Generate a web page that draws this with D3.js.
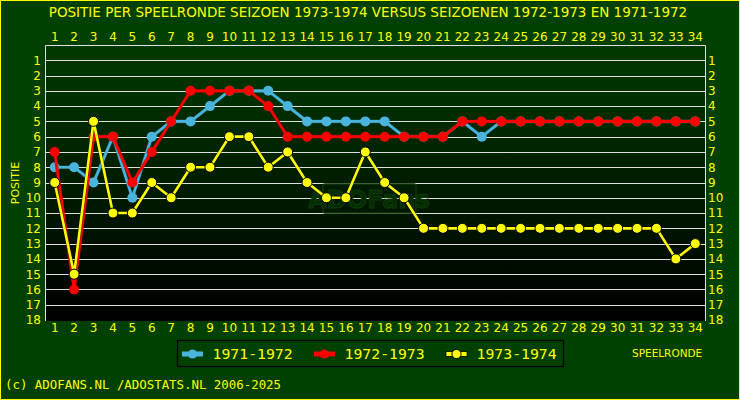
<!DOCTYPE html>
<html><head><meta charset="utf-8">
<script src="https://cdn.jsdelivr.net/npm/d3@7"></script>
<style>html,body{margin:0;padding:0;background:#004000;}svg{display:block;}</style>
</head><body>
<script>
const rounds = d3.range(1, 35);
const positions = d3.range(1, 19);
const season7172 = [8,8,9,6,10,6,5,5,4,3,3,3,4,5,5,5,5,5,6,6,6,5,6,5,5,5,5,5,5,5,5,5,5,5];
const season7273 = [7,16,6,6,9,7,5,3,3,3,3,4,6,6,6,6,6,6,6,6,6,5,5,5,5,5,5,5,5,5,5,5,5,5];
const season7374 = [9,15,5,11,11,9,10,8,8,6,6,8,7,9,10,10,7,9,10,12,12,12,12,12,12,12,12,12,12,12,12,12,14,13];
const seriesNames = ["1971-1972", "1972-1973", "1973-1974"];
const seriesColors = ["#4bb4dc", "#ff0000", "#ffff00"];
const seriesStroke = ["#2a8ab0", "#c00000", "#000000"];
const title = "POSITIE PER SPEELRONDE SEIZOEN 1973-1974 VERSUS SEIZOENEN 1972-1973 EN 1971-1972";

const W = 740, H = 400;
const svg = d3.select("body").append("svg").attr("width", W).attr("height", H);
const defs = svg.append("defs");
const grad = defs.append("linearGradient").attr("id", "bg").attr("x1", 0).attr("y1", 0).attr("x2", 0).attr("y2", 1);
grad.append("stop").attr("offset", "0%").attr("stop-color", "#003a00");
grad.append("stop").attr("offset", "100%").attr("stop-color", "#000000");

svg.append("rect").attr("x", 0.5).attr("y", 0.5).attr("width", W - 1).attr("height", H - 1)
  .attr("fill", "#004000").attr("stroke", "#ffff00");

const L = 45, R = 705, T = 45, B = 320;
const x = d3.scaleBand().domain(rounds).range([L, R]);
const y = d3.scaleLinear().domain([0, 18]).range([T, B]);
const cx = d => x(d) + x.bandwidth() / 2;

svg.append("rect").attr("x", L).attr("y", T).attr("width", R - L).attr("height", B - T + 1).attr("fill", "url(#bg)");

// gridlines
svg.append("g").selectAll("line").data(positions.slice(0, 17)).join("line")
  .attr("x1", L).attr("x2", R).attr("y1", d => Math.round(y(d)) + 0.5).attr("y2", d => Math.round(y(d)) + 0.5)
  .attr("stroke", "#e0e0e0").attr("stroke-width", 1);
// border
svg.append("path").attr("d", `M${L + 0.5},${B + 1}V${T + 0.5}H${R + 0.5}V${B + 1}`)
  .attr("fill", "none").attr("stroke", "#e0e0e0");

// watermark
const wm = svg.append("g");
wm.append("rect").attr("x", 323).attr("y", 184).attr("width", 93).attr("height", 29).attr("rx", 2)
  .attr("fill", "none").attr("stroke", "#0e3a06").attr("stroke-width", 1.5);
wm.append("text").attr("x", 369).attr("y", 208).attr("text-anchor", "middle")
  .attr("font-family", "DejaVu Sans").attr("font-weight", "bold").attr("font-size", 24)
  .attr("fill", "#062c02").attr("stroke", "#0e3a06").attr("stroke-width", 1).text("ADOFans");

const font = "DejaVu Sans";
// title
svg.append("text").attr("x", 368).attr("y", 17).attr("text-anchor", "middle")
  .attr("font-family", font).attr("font-size", 13.5).attr("fill", "#ffff00").text(title);

// x axes (top and bottom)
const xTop = d3.axisTop(x).tickSize(0).tickPadding(0);
const gTop = svg.append("g").attr("transform", `translate(0,${T - 4})`).call(xTop);
const xBot = d3.axisBottom(x).tickSize(0).tickPadding(0);
const gBot = svg.append("g").attr("transform", `translate(0,${B + 3})`).call(xBot);
// y axes
const yL = d3.axisLeft(y).tickValues(positions).tickSize(0).tickPadding(0);
const gL = svg.append("g").attr("transform", `translate(${L - 4},0)`).call(yL);
const yR = d3.axisRight(y).tickValues(positions).tickSize(0).tickPadding(0);
const gR = svg.append("g").attr("transform", `translate(${R + 3},0)`).call(yR);
[gTop, gBot, gL, gR].forEach(g => {
  g.select(".domain").remove();
  g.selectAll("text").attr("font-family", font).attr("font-size", 12).attr("fill", "#ffff00");
});

svg.append("text").attr("transform", "translate(19,183) rotate(-90)").attr("text-anchor", "middle")
  .attr("font-family", font).attr("font-size", 11).attr("fill", "#ffff00").text("POSITIE");

// series
const allSeries = [season7172, season7273, season7374];
const line = d3.line().x((d, i) => cx(rounds[i])).y(d => y(d));
allSeries.forEach((s, k) => {
  const g = svg.append("g");
  g.append("path").datum(s).attr("d", line).attr("fill", "none")
    .attr("stroke", seriesStroke[k]).attr("stroke-width", 3.6).attr("stroke-opacity", 0.5).attr("stroke-linejoin", "round");
  g.append("path").datum(s).attr("d", line).attr("fill", "none")
    .attr("stroke", seriesColors[k]).attr("stroke-width", 2.6).attr("stroke-linejoin", "round");
  g.selectAll("circle").data(s).join("circle")
    .attr("cx", (d, i) => cx(rounds[i])).attr("cy", d => y(d)).attr("r", 5)
    .attr("fill", seriesColors[k]).attr("stroke", k === 2 ? "#000" : seriesColors[k]).attr("stroke-width", k === 2 ? 1 : 0);
});

// legend
const lg = svg.append("g");
lg.append("rect").attr("x", 177.5).attr("y", 340.5).attr("width", 386).attr("height", 26)
  .attr("fill", "#004000").attr("stroke", "#000").attr("stroke-width", 1.2);
const legX = [192.5, 324.5, 456.5];
seriesNames.forEach((n, k) => {
  const gx = legX[k];
  lg.append("rect").attr("x", gx - 10.5).attr("y", 351.5).attr("width", 21).attr("height", 5).attr("fill", seriesColors[k])
    .attr("stroke", k === 2 ? "#000" : "none").attr("stroke-width", 0.8);
  lg.append("circle").attr("cx", gx).attr("cy", 354).attr("r", 4.6).attr("fill", seriesColors[k])
    .attr("stroke", k === 2 ? "#000" : "none").attr("stroke-width", 1);
  lg.append("text").attr("x", gx + 20).attr("y", 359).attr("font-family", "DejaVu Sans Mono").attr("font-size", 14.8)
    .attr("fill", "#ffff00").text(n);
});

svg.append("text").attr("x", 632).attr("y", 356.5).attr("font-family", font).attr("font-size", 10.5)
  .attr("fill", "#ffff00").text("SPEELRONDE");

svg.append("text").attr("x", 5).attr("y", 389).attr("font-family", "DejaVu Sans Mono").attr("font-size", 12.4)
  .attr("fill", "#ffff00").text("(c) ADOFANS.NL /ADOSTATS.NL 2006-2025");
</script>
</body></html>
